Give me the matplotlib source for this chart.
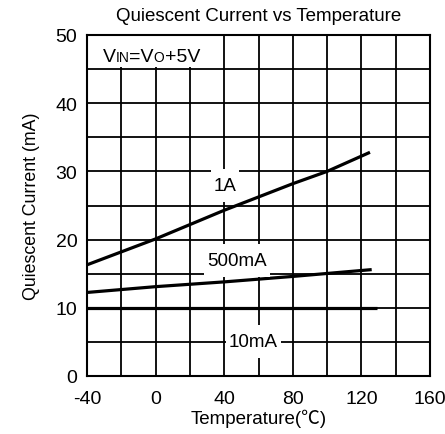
import matplotlib
matplotlib.use("Agg")
import matplotlib.pyplot as plt
from matplotlib.path import Path
from matplotlib.offsetbox import TextArea, HPacker, AnnotationBbox

plt.rcParams['font.family'] = ['Liberation Sans', 'DejaVu Sans']
plt.rcParams['axes.unicode_minus'] = False

# curves (temperature in C, current in mA)
temp_1a = [-40, 0, 40, 80, 100, 125]
curr_1a = [16.3, 20.1, 24.3, 28.2, 30.0, 32.8]
temp_500ma = [-40, 0, 40, 80, 126]
curr_500ma = [12.25, 13.1, 13.8, 14.6, 15.6]
temp_10ma = [-40, 129]
curr_10ma = [10.0, 10.0]

curve_labels = ['1A', '500mA', '10mA']
label_pos = [(40.5, 27.9), (47.5, 17.0), (57, 5.0)]

xticks = [-40, 0, 40, 80, 120, 160]
yticks = [0, 10, 20, 30, 40, 50]


def make_box(padx, pad_bot, pad_top):
    # white patch behind a label, taller than the text like the original
    def box(x0, y0, width, height, mutation_size):
        x1, y1 = x0 + width + padx, y0 + height + pad_top
        x0, y0 = x0 - padx, y0 - pad_bot
        return Path([(x0, y0), (x1, y0), (x1, y1), (x0, y1), (x0, y0)], closed=True)
    return box


fig = plt.figure(figsize=(4.45, 4.35), dpi=100)
ax = fig.add_axes([87 / 445, 58 / 435, 343 / 445, 341 / 435])

ax.set_xlim(-40, 160)
ax.set_ylim(0, 50)
ax.set_xticks(xticks)
ax.set_yticks(yticks)
ax.set_xticks(range(-40, 161, 20), minor=True)
ax.set_yticks(range(0, 51, 5), minor=True)
ax.grid(True, which='both', color='black', linewidth=1.3)
ax.tick_params(which='both', length=0, labelsize=14)
ax.tick_params(axis='x', pad=10)
ax.tick_params(axis='y', pad=7)
for s in ax.spines.values():
    s.set_linewidth(1.5)

for x, y in [(temp_1a, curr_1a), (temp_500ma, curr_500ma), (temp_10ma, curr_10ma)]:
    ax.plot(x, y, color='black', linewidth=2.3, solid_capstyle='butt', zorder=3)

for name, (x, y) in zip(curve_labels, label_pos):
    ax.text(x, y, name, fontsize=13.5, ha='center', va='center', zorder=4,
            bbox=dict(boxstyle=make_box(3, 8, 8), facecolor='white', edgecolor='none'))

# V_IN = V_O + 5V, small caps on the baseline
parts = [('V', 14), ('IN', 10), ('=V', 14), ('O', 10), ('+5V', 14)]
boxes = [TextArea(t, textprops=dict(fontsize=fs)) for t, fs in parts]
pack = HPacker(children=boxes, align='baseline', pad=0, sep=0)
ab = AnnotationBbox(pack, (-31, 46.8), box_alignment=(0, 0.5), frameon=True,
                    pad=0, bboxprops=dict(boxstyle=make_box(7, 2, 14), facecolor='white',
                                          edgecolor='none'),
                    zorder=2.2)
ax.add_artist(ab)

ax.set_title('Quiescent Current vs Temperature', fontsize=13.5, pad=11)
ax.set_xlabel('Temperature(℃)', fontsize=13.5, labelpad=1,
              family=['Liberation Sans', 'Noto Sans CJK SC'])
ax.set_ylabel('Quiescent Current (mA)', fontsize=12.8, labelpad=11)

fig.savefig('out.png', dpi=100)
